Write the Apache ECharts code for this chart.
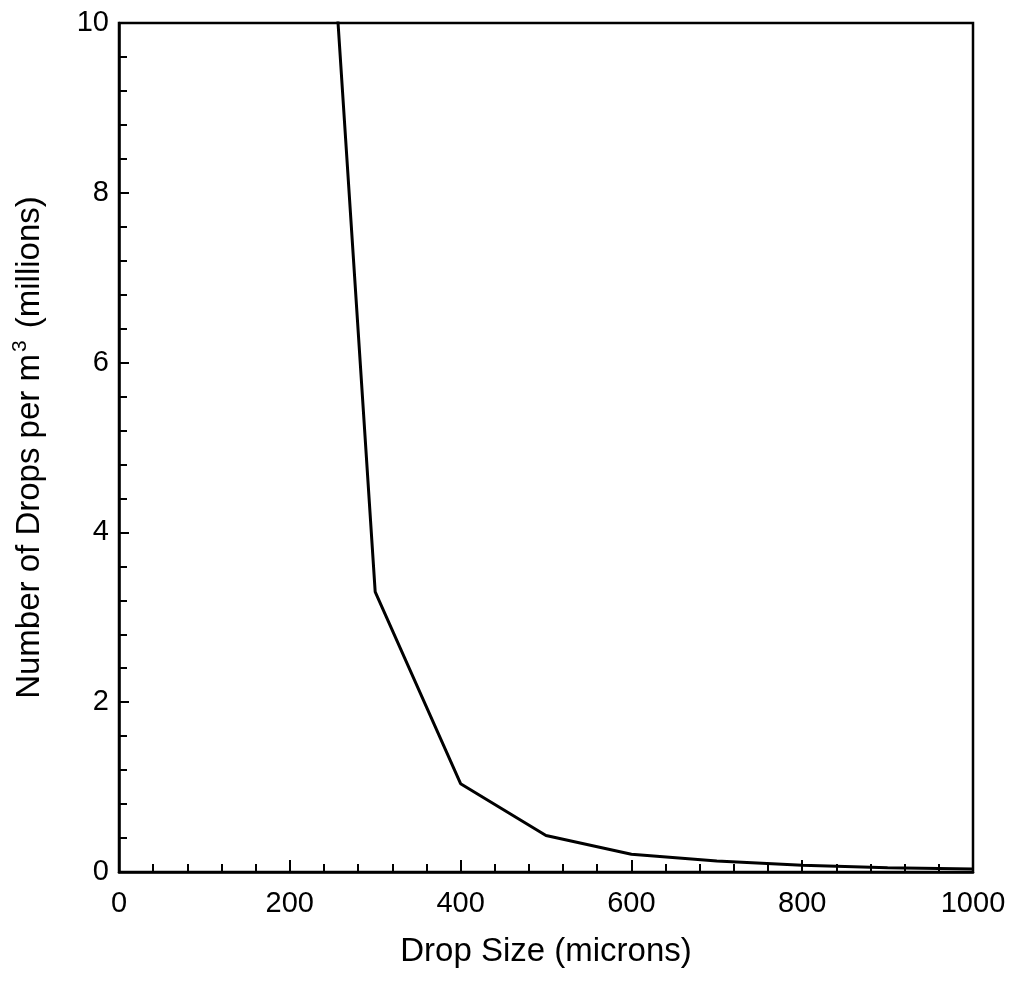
<!DOCTYPE html>
<html>
<head>
<meta charset="utf-8">
<script src="https://cdn.jsdelivr.net/npm/echarts@6/dist/echarts.min.js"></script>
<style>
html,body{margin:0;padding:0;background:#fff;}
#chart{width:1010px;height:983px;}
</style>
</head>
<body>
<div id="chart"></div>
<script>
const dropSize = [250, 300, 400, 500, 600, 700, 800, 900, 1000];
const dropsPerM3 = [11.0, 3.3, 1.04, 0.43, 0.21, 0.13, 0.08, 0.05, 0.035];
const xTitle = 'Drop Size (microns)';
const yTitle = 'Number of Drops per m{sup|3} (millions)';

const chart = echarts.init(document.getElementById('chart'), null, {renderer: 'canvas'});
const font = 'Liberation Sans, Arial, Helvetica, sans-serif';
chart.setOption({
  animation: false,
  backgroundColor: '#fff',
  grid: {
    left: 119, right: 37, top: 23, bottom: 111,
    show: true, borderColor: '#000', borderWidth: 2.5, backgroundColor: 'transparent'
  },
  xAxis: {
    type: 'value', min: 0, max: 1000, interval: 200,
    name: xTitle, nameLocation: 'middle', nameGap: 63,
    nameTextStyle: {fontFamily: font, fontSize: 33, color: '#000'},
    axisLine: {show: true, lineStyle: {color: '#000', width: 2.5}},
    axisTick: {show: true, inside: true, length: 12, lineStyle: {color: '#000', width: 2}},
    minorTick: {show: true, splitNumber: 5, length: 8, lineStyle: {color: '#000', width: 2}},
    axisLabel: {fontFamily: font, fontSize: 29, color: '#000', margin: 17, formatter: v => String(v)},
    splitLine: {show: false}
  },
  yAxis: {
    type: 'value', min: 0, max: 10, interval: 2,
    name: yTitle, nameLocation: 'middle', nameGap: 70,
    nameTextStyle: {
      fontFamily: font, fontSize: 33, color: '#000',
      rich: {sup: {fontFamily: font, fontSize: 21, color: '#000', padding: [0, 3, 18, 2]}}
    },
    axisLine: {show: true, lineStyle: {color: '#000', width: 2.5}},
    axisTick: {show: true, inside: true, length: 10, lineStyle: {color: '#000', width: 2}},
    minorTick: {show: true, splitNumber: 5, length: 8, lineStyle: {color: '#000', width: 2}},
    axisLabel: {fontFamily: font, fontSize: 29, color: '#000', margin: 10},
    splitLine: {show: false}
  },
  series: [{
    type: 'line',
    data: dropSize.map((x, i) => [x, dropsPerM3[i]]),
    showSymbol: false,
    clip: true,
    lineStyle: {color: '#000', width: 3},
    silent: true
  }]
});
</script>
</body>
</html>
